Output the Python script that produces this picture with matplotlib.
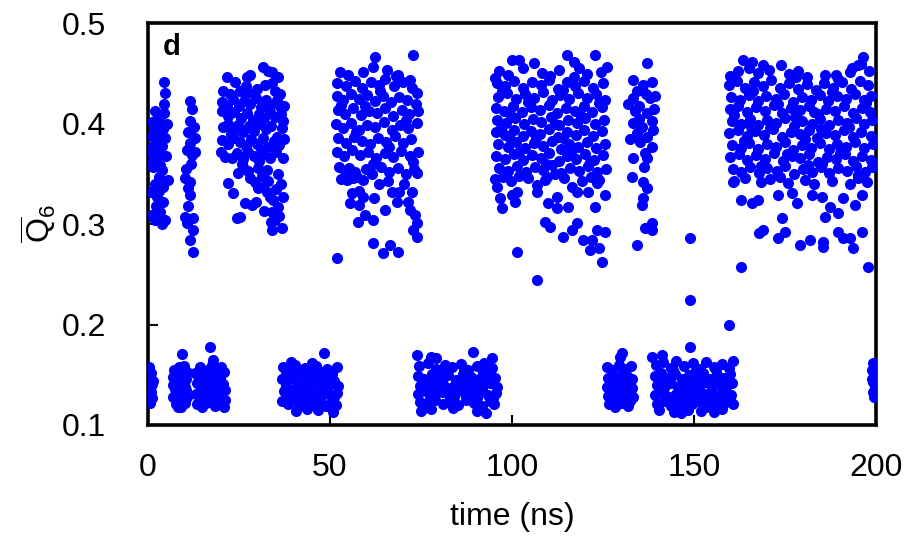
import matplotlib
matplotlib.use("Agg")
import matplotlib.pyplot as plt
import numpy as np

plt.rcParams['font.family'] = ['Liberation Sans', 'DejaVu Sans']
plt.rcParams['mathtext.fontset'] = 'custom'
plt.rcParams['mathtext.rm'] = 'Liberation Sans'
plt.rcParams['mathtext.it'] = 'Liberation Sans'

# (time in ns, Q6 average) per stretch of the trajectory
# ---- low-Q6 (liquid-like) stretches ----
low_0 = [(0.3, .158), (0.8, .152), (0.2, .146), (1.0, .141), (0.4, .137), (0.9, .133),
         (0.3, .129), (1.2, .127), (0.6, .122), (0.5, .149), (1.3, .144), (0.7, .139)]

low_8 = [(7.2, .155), (8.4, .158), (9.6, .150), (10.5, .146), (6.8, .148), (7.9, .143),
         (9.1, .141), (10.3, .138), (7.3, .136), (8.7, .133), (9.9, .131), (6.9, .128),
         (8.1, .126), (9.4, .124), (10.6, .128), (7.6, .121), (8.3, .118), (9.0, .118),
         (10.1, .122), (8.8, .147), (9.3, .171), (10.8, .153), (7.0, .140), (8.0, .150),
         (9.8, .159), (10.4, .135)]

low_17 = [(13.0, .152), (14.2, .158), (15.3, .149), (16.5, .155), (17.6, .160), (18.8, .151),
          (19.9, .147), (21.0, .153), (13.4, .142), (14.6, .139), (15.8, .144), (17.0, .138),
          (18.2, .143), (19.4, .137), (20.6, .141), (21.3, .135), (13.1, .131), (14.3, .128),
          (15.5, .133), (16.7, .126), (17.9, .130), (19.1, .127), (20.2, .131), (21.1, .125),
          (13.6, .121), (14.8, .118), (16.0, .122), (17.3, .124), (18.5, .119), (19.7, .121),
          (20.8, .118), (17.0, .178), (18.0, .165), (16.2, .147), (19.0, .133),
          (14.0, .148), (16.2, .135), (18.6, .127), (20.0, .158), (15.0, .124), (19.5, .143)]

low_44 = [(37.2, .158), (38.9, .154), (40.3, .160), (41.8, .152), (43.2, .157), (44.7, .151),
          (46.1, .159), (47.5, .153), (48.4, .172), (49.2, .156), (50.6, .151), (51.8, .158),
          (36.9, .146), (38.3, .143), (39.7, .148), (41.2, .141), (42.6, .145), (44.1, .139),
          (45.5, .146), (46.9, .142), (48.3, .147), (49.8, .140), (51.2, .144), (52.3, .139),
          (37.5, .134), (39.0, .131), (40.5, .136), (41.9, .129), (43.4, .133), (44.8, .128),
          (46.3, .135), (47.7, .130), (49.1, .134), (50.5, .127), (51.9, .132),
          (36.8, .124), (38.4, .121), (39.9, .125), (41.4, .119), (42.9, .123), (44.4, .126),
          (45.9, .120), (47.3, .124), (48.8, .119), (50.2, .123), (51.6, .120),
          (40.8, .114), (43.8, .116), (46.8, .115), (50.9, .113), (39.2, .163), (45.0, .162),
          (37.9, .139), (40.1, .128), (42.3, .137), (44.0, .147), (46.0, .129), (48.1, .138),
          (49.9, .150), (51.0, .128), (38.0, .151), (43.0, .150)]

low_85 = [(74.5, .159), (77.0, .162), (79.2, .156), (81.5, .160), (83.4, .158), (85.9, .161),
          (88.0, .155), (90.3, .159), (92.4, .162), (94.6, .157),
          (74.0, .170), (77.8, .168), (79.0, .167), (89.2, .173), (94.5, .167),
          (74.1, .149), (75.9, .146), (78.1, .151), (80.2, .147), (82.3, .150), (84.5, .145),
          (86.6, .151), (88.8, .148), (91.0, .146), (93.1, .150), (95.3, .147),
          (74.8, .139), (76.9, .142), (79.0, .138), (81.1, .141), (83.3, .137), (85.4, .143),
          (87.5, .139), (89.7, .141), (91.8, .137), (94.0, .142), (95.8, .138),
          (74.3, .131), (76.4, .134), (78.5, .129), (80.7, .133), (82.8, .130), (84.9, .135),
          (87.0, .131), (89.2, .128), (91.4, .134), (93.5, .130), (95.5, .132),
          (74.6, .123), (76.7, .120), (78.9, .125), (81.0, .121), (83.1, .124), (85.3, .120),
          (87.4, .125), (89.6, .122), (91.7, .119), (93.9, .124), (95.1, .121),
          (74.9, .114), (77.8, .116), (83.9, .117), (90.5, .114), (93.0, .112),
          (75.5, .135), (77.6, .127), (79.8, .145), (81.9, .136), (84.0, .128), (86.2, .146),
          (88.3, .135), (90.4, .127), (92.5, .144), (94.8, .127), (80.5, .154), (86.8, .156),
          (92.0, .153), (78.0, .139), (84.2, .139), (90.0, .136)]

low_130 = [(126.0, .158), (127.6, .155), (129.4, .160), (131.2, .156), (132.8, .159),
           (130.2, .172), (129.8, .168),
           (126.3, .147), (128.0, .150), (129.7, .145), (131.5, .149), (133.1, .146),
           (126.1, .138), (127.8, .141), (129.5, .136), (131.3, .140), (132.9, .137),
           (126.4, .129), (128.1, .132), (129.9, .127), (131.6, .131), (133.2, .128),
           (126.7, .121), (128.4, .118), (130.2, .122), (131.9, .119), (127.2, .125),
           (130.8, .134), (127.0, .133), (130.5, .152), (132.4, .124), (128.9, .143)]

low_150 = [(139.5, .160), (141.5, .163), (143.6, .157), (145.1, .164), (147.2, .159),
           (149.8, .162), (151.6, .156), (153.3, .163), (155.5, .158), (157.8, .161),
           (159.5, .157), (160.7, .164), (138.6, .168), (141.2, .170),
           (139.2, .149), (141.0, .152), (142.9, .147), (144.8, .151), (146.7, .146),
           (148.6, .150), (150.5, .148), (152.4, .152), (154.3, .146), (156.2, .150),
           (158.1, .147), (160.0, .151),
           (139.8, .140), (141.7, .137), (143.6, .142), (145.5, .138), (147.4, .141),
           (149.3, .136), (151.2, .140), (153.1, .143), (155.0, .137), (156.9, .141),
           (158.8, .138), (160.5, .142),
           (139.4, .130), (141.3, .133), (143.2, .128), (145.1, .131), (147.0, .129),
           (148.9, .133), (150.8, .128), (152.7, .131), (154.6, .134), (156.5, .129),
           (158.4, .132), (160.3, .130),
           (139.9, .121), (141.8, .124), (143.7, .119), (145.6, .122), (147.5, .117),
           (149.4, .121), (151.3, .124), (153.2, .118), (155.1, .122), (157.0, .119),
           (158.9, .123), (160.6, .121),
           (140.5, .115), (144.6, .113), (146.4, .112), (148.3, .115), (151.8, .114),
           (155.6, .113), (157.8, .116),
           (140.3, .145), (142.5, .128), (144.2, .155), (146.1, .135), (148.0, .124),
           (150.1, .144), (152.0, .133), (154.0, .126), (156.0, .155), (157.9, .135),
           (159.8, .126), (142.4, .141), (150.6, .155), (155.8, .145)]

low_199 = [(199.3, .162), (199.0, .155), (199.5, .149), (199.1, .143), (199.6, .138),
           (199.2, .133), (199.4, .128), (199.0, .146)]

# ---- high-Q6 (ordered) stretches ----
high_3 = [(4.4, .441), (4.6, .431), (4.5, .420), (1.9, .413), (2.5, .405), (5.2, .400),
          (1.6, .394), (3.3, .389), (4.7, .386), (2.6, .381), (2.8, .374), (1.4, .357),
          (3.8, .354), (2.9, .347), (5.5, .344), (4.1, .337), (2.6, .327), (4.0, .322),
          (3.3, .312), (1.9, .304), (4.6, .304), (1.2, .402), (2.1, .397), (3.6, .401),
          (1.0, .388), (2.4, .392), (4.2, .395), (1.5, .378), (3.9, .378), (0.8, .371),
          (2.2, .366), (4.9, .368), (1.1, .361), (3.4, .359), (1.8, .340), (0.9, .332),
          (3.1, .333), (2.2, .318), (1.2, .309), (3.8, .300), (4.4, .411)]

high_12 = [(11.5, .423), (12.0, .415), (11.5, .403), (11.0, .392), (12.9, .386), (11.5, .381),
           (10.7, .374), (12.9, .372), (12.0, .369), (10.2, .346), (11.5, .342), (11.0, .336),
           (11.5, .329), (10.2, .307), (12.4, .306), (10.7, .301), (12.4, .294), (11.5, .284),
           (12.4, .272), (11.8, .360), (10.5, .355), (12.6, .397), (10.9, .318)]

high_28 = [(21.6, .446), (23.9, .441), (27.1, .446), (28.0, .448), (31.6, .456), (33.0, .452),
           (34.0, .451), (35.7, .446),
           (20.6, .433), (22.5, .430), (25.3, .433), (26.8, .437), (29.0, .431), (30.0, .435),
           (32.2, .438), (34.8, .433), (36.3, .430),
           (20.3, .422), (21.8, .419), (23.4, .425), (24.9, .418), (26.4, .423), (27.9, .420),
           (29.6, .426), (31.0, .417), (32.5, .424), (33.9, .419), (35.5, .424), (36.6, .416),
           (20.3, .413), (22.0, .408), (23.7, .412), (25.6, .406), (27.3, .411), (28.8, .404),
           (30.4, .410), (32.0, .406), (33.4, .412), (35.0, .407), (36.5, .410),
           (20.6, .397), (21.9, .400), (23.3, .394), (24.8, .399), (26.2, .392), (27.7, .398),
           (29.1, .393), (30.7, .400), (32.3, .395), (33.8, .398), (35.4, .387), (36.8, .396),
           (20.4, .384), (22.1, .380), (23.6, .386), (25.2, .382), (26.8, .378), (28.3, .385),
           (29.9, .380), (31.5, .386), (33.1, .377), (34.6, .383), (36.0, .379),
           (20.2, .372), (21.2, .367), (23.0, .366), (24.4, .371), (26.0, .365), (27.5, .372),
           (29.0, .368), (30.6, .363), (32.0, .370), (33.6, .366), (35.2, .372), (37.0, .366),
           (22.0, .341), (23.4, .331), (24.7, .351), (26.0, .357), (28.0, .346), (29.4, .342),
           (30.2, .336), (31.6, .337), (32.7, .332), (33.5, .327), (34.4, .324), (37.0, .327),
           (35.7, .317), (34.0, .312), (34.9, .304), (34.0, .294), (36.8, .296), (25.3, .307),
           (24.5, .306), (26.6, .321), (28.5, .319), (32.7, .354), (30.2, .356), (31.2, .348),
           (33.0, .343), (35.8, .350), (36.5, .340), (27.5, .353), (29.8, .322), (32.0, .313),
           (33.7, .302), (36.0, .308), (35.2, .335), (37.2, .403), (37.5, .418), (37.3, .385),
           (22.8, .390), (27.0, .430), (31.0, .375), (34.0, .440), (25.7, .360)]

high_63 = [(62.4, .466), (72.8, .468), (52.7, .451), (55.0, .448), (59.0, .451), (61.8, .456),
           (65.6, .453), (68.7, .448), (72.0, .443),
           (52.0, .440), (54.5, .437), (56.8, .442), (58.9, .436), (61.2, .441), (63.4, .438),
           (65.0, .444), (67.5, .437), (70.0, .441), (72.4, .436), (74.0, .431),
           (51.8, .428), (53.6, .424), (55.7, .430), (57.9, .425), (60.1, .429), (62.3, .423),
           (64.5, .428), (66.8, .422), (69.0, .427), (71.2, .424), (73.6, .420),
           (52.3, .414), (54.1, .410), (56.3, .416), (58.4, .409), (60.6, .413), (62.9, .411),
           (65.2, .416), (67.4, .408), (69.7, .414), (71.8, .410), (74.2, .413),
           (51.6, .400), (53.7, .396), (55.9, .401), (58.0, .394), (60.3, .399), (62.5, .397),
           (64.8, .402), (67.0, .394), (69.3, .399), (71.5, .396), (73.8, .401),
           (52.1, .386), (54.3, .381), (56.6, .387), (58.7, .383), (61.0, .380), (63.2, .386),
           (65.5, .382), (67.8, .388), (70.1, .381), (72.3, .385),
           (51.9, .372), (53.9, .368), (56.1, .374), (58.3, .369), (60.5, .372), (62.7, .366),
           (65.0, .371), (67.2, .367), (69.5, .373), (71.9, .368), (74.1, .372),
           (52.4, .357), (54.2, .353), (55.2, .356), (57.0, .352), (59.8, .355), (61.6, .350),
           (64.0, .357), (66.3, .352), (68.6, .356), (70.8, .350), (73.0, .355),
           (53.0, .345), (54.6, .344), (56.2, .346), (57.5, .347), (59.0, .344),
           (58.0, .333), (63.5, .340), (66.0, .343), (70.4, .340),
           (73.8, .351), (56.0, .331), (59.0, .327), (62.0, .326), (55.5, .321), (58.0, .319),
           (65.0, .314), (68.4, .322), (67.0, .332), (69.0, .332), (72.5, .332), (71.4, .322),
           (72.0, .314), (73.4, .309), (59.6, .309), (57.7, .302), (61.8, .304), (74.0, .301),
           (72.8, .294), (61.8, .281), (64.5, .271), (66.5, .279), (68.7, .272), (52.0, .266),
           (73.9, .287),
           (53.0, .419), (57.2, .392), (61.7, .360), (63.8, .433), (66.1, .377), (70.9, .404),
           (68.2, .447), (59.5, .418), (72.9, .362)]

high_110 = [(100.0, .463), (102.0, .463), (106.0, .460), (115.0, .468), (117.0, .461),
            (122.8, .468), (126.0, .456), (95.3, .445),
            (96.5, .452), (99.0, .448), (103.0, .455), (108.3, .450), (110.5, .447),
            (113.0, .453), (118.5, .455), (120.5, .449), (124.5, .451),
            (95.8, .440), (98.2, .437), (100.6, .442), (103.1, .436), (105.5, .441),
            (107.9, .438), (110.2, .443), (112.7, .435), (115.0, .441), (117.4, .437),
            (119.8, .442), (122.3, .436), (125.0, .440),
            (96.2, .427), (98.7, .431), (101.1, .425), (103.6, .430), (106.0, .426),
            (108.5, .432), (110.9, .424), (113.3, .429), (115.7, .425), (118.2, .431),
            (120.6, .426), (123.0, .430), (125.6, .424),
            (95.5, .416), (97.9, .413), (100.3, .418), (102.8, .412), (105.2, .417),
            (107.6, .414), (110.1, .419), (112.5, .411), (114.9, .416), (117.3, .413),
            (119.7, .418), (122.1, .412), (124.6, .417),
            (96.0, .404), (98.4, .401), (100.9, .406), (103.3, .400), (105.7, .405),
            (108.1, .402), (110.6, .407), (113.0, .399), (115.4, .404), (117.8, .401),
            (120.2, .406), (122.7, .400), (125.2, .404),
            (95.6, .392), (98.0, .389), (100.5, .394), (102.9, .388), (105.3, .393),
            (107.8, .390), (110.2, .395), (112.6, .387), (115.0, .392), (117.5, .389),
            (119.9, .394), (122.3, .388), (124.8, .393),
            (96.3, .380), (98.8, .377), (101.2, .382), (103.6, .376), (106.1, .381),
            (108.5, .378), (110.9, .383), (113.4, .375), (115.8, .380), (118.2, .377),
            (120.7, .382), (123.1, .376), (125.5, .380),
            (95.7, .368), (98.1, .365), (100.6, .370), (103.0, .364), (105.4, .369),
            (107.9, .366), (110.3, .371), (112.8, .363), (115.2, .368), (117.6, .365),
            (120.1, .370), (122.5, .364), (124.9, .369),
            (96.4, .356), (98.9, .353), (101.3, .358), (103.8, .352), (106.2, .357),
            (108.6, .354), (111.1, .359), (113.5, .351), (116.0, .356), (118.4, .353),
            (120.8, .358), (123.3, .352), (125.7, .355),
            (95.4, .345), (97.5, .347), (99.6, .343), (104.5, .346), (109.0, .344),
            (114.2, .346), (119.3, .343), (121.6, .347), (124.0, .344),
            (95.8, .337), (96.7, .326), (97.2, .316), (100.0, .329), (101.3, .332),
            (100.8, .322), (106.9, .339), (106.9, .332), (109.6, .347), (110.0, .321),
            (112.3, .327), (112.3, .316), (115.4, .317), (116.5, .337), (117.8, .332),
            (120.8, .332), (123.3, .341), (125.5, .329), (122.8, .317), (109.0, .302),
            (110.4, .297), (114.0, .287), (116.5, .294), (118.0, .301), (119.5, .284),
            (122.0, .284), (121.4, .274), (124.0, .276), (123.3, .294), (125.5, .292),
            (124.7, .262), (101.3, .272), (107.0, .244),
            (97.0, .396), (99.5, .410), (101.8, .372), (104.4, .422), (106.7, .386),
            (109.3, .360), (111.8, .400), (114.1, .434), (116.6, .374), (119.0, .408),
            (121.4, .362), (123.8, .421), (97.3, .433), (102.0, .348), (111.7, .350),
            (117.0, .446), (99.8, .384), (113.9, .386)]

high_136 = [(137.0, .460), (133.2, .443), (138.4, .441), (134.3, .433), (136.0, .438),
            (133.2, .426), (137.9, .426), (133.8, .413), (137.0, .411), (138.4, .403),
            (133.2, .401), (135.7, .397), (138.7, .394), (134.3, .391), (137.0, .387),
            (135.2, .382), (138.4, .377), (136.5, .371), (137.0, .366), (133.2, .366),
            (133.0, .347), (136.0, .342), (137.0, .336), (136.0, .326), (135.7, .319),
            (138.4, .301), (136.5, .296), (138.4, .294), (134.3, .279),
            (131.9, .420), (134.9, .418), (136.8, .430), (132.5, .385), (139.0, .415),
            (135.0, .405), (136.2, .357), (139.2, .428)]

crossing_150 = [(149.0, .286), (149.0, .224), (149.0, .178), (159.5, .200), (162.8, .257)]

high_180 = [(163.5, .463), (166.0, .461), (169.0, .458), (174.0, .458), (196.4, .466),
            (195.0, .458), (192.8, .451),
            (160.0, .447), (162.2, .452), (165.0, .455), (167.5, .450), (170.6, .453),
            (176.0, .449), (178.5, .452), (181.0, .446), (186.0, .448), (189.5, .444),
            (193.5, .455), (196.0, .459), (198.0, .452),
            (159.6, .438), (161.8, .442), (164.1, .436), (166.5, .441), (168.9, .437),
            (171.3, .443), (173.7, .436), (176.1, .440), (178.6, .435), (181.0, .439),
            (183.4, .434), (185.8, .440), (188.3, .436), (190.7, .441), (193.1, .435),
            (195.5, .442), (197.9, .438),
            (160.3, .427), (162.7, .424), (165.1, .429), (167.5, .423), (169.9, .428),
            (172.4, .425), (174.8, .430), (177.2, .422), (179.6, .427), (182.1, .424),
            (184.5, .429), (186.9, .423), (189.3, .428), (191.8, .425), (194.2, .430),
            (196.6, .424), (198.7, .428),
            (159.8, .415), (162.2, .418), (164.6, .412), (167.0, .417), (169.4, .413),
            (171.9, .419), (174.3, .411), (176.7, .416), (179.1, .414), (181.6, .418),
            (184.0, .410), (186.4, .415), (188.8, .413), (191.3, .418), (193.7, .411),
            (196.1, .416), (198.4, .412),
            (160.5, .403), (162.9, .400), (165.3, .405), (167.7, .399), (170.1, .404),
            (172.6, .401), (175.0, .406), (177.4, .398), (179.8, .403), (182.3, .400),
            (184.7, .405), (187.1, .399), (189.5, .404), (192.0, .401), (194.4, .406),
            (196.8, .400), (199.0, .404),
            (159.7, .391), (162.1, .394), (164.5, .388), (166.9, .393), (169.3, .389),
            (171.8, .395), (174.2, .387), (176.6, .392), (179.0, .390), (181.5, .394),
            (183.9, .386), (186.3, .391), (188.7, .389), (191.2, .394), (193.6, .387),
            (196.0, .392), (198.5, .388),
            (160.4, .379), (162.8, .376), (165.2, .381), (167.6, .375), (170.0, .380),
            (172.5, .377), (174.9, .382), (177.3, .374), (179.7, .379), (182.2, .376),
            (184.6, .381), (187.0, .375), (189.4, .380), (191.9, .377), (194.3, .382),
            (196.7, .376), (199.1, .380),
            (159.9, .367), (162.3, .370), (164.7, .364), (167.1, .369), (169.5, .365),
            (172.0, .371), (174.4, .363), (176.8, .368), (179.2, .366), (181.7, .370),
            (184.1, .362), (186.5, .367), (188.9, .365), (191.4, .370), (193.8, .363),
            (196.2, .368), (198.6, .364),
            (160.6, .355), (163.0, .352), (165.4, .357), (167.8, .351), (170.2, .356),
            (172.7, .353), (175.1, .358), (177.5, .350), (179.9, .355), (182.4, .352),
            (184.8, .357), (187.2, .351), (189.6, .356), (192.1, .353), (194.5, .358),
            (196.9, .352), (198.8, .357),
            (161.0, .343), (164.0, .346), (168.5, .342), (171.0, .345), (175.7, .341),
            (180.5, .344), (183.0, .340), (188.0, .343), (192.8, .340), (195.2, .346),
            (197.5, .342),
            (160.7, .342), (163.0, .324), (166.0, .321), (167.6, .324), (173.0, .329),
            (177.0, .331), (178.3, .321), (182.4, .329), (185.2, .327), (187.4, .317),
            (190.9, .326), (194.2, .319), (196.2, .329), (186.0, .307), (189.6, .311),
            (174.2, .306), (169.0, .294), (168.0, .291), (175.0, .292), (173.0, .286),
            (179.0, .279), (181.9, .284), (185.4, .282), (185.4, .277), (189.6, .292),
            (190.9, .286), (192.9, .286), (193.7, .276), (196.2, .292), (197.8, .257),
            (161.0, .409), (163.7, .383), (166.2, .433), (168.4, .358), (170.8, .396),
            (173.2, .420), (175.6, .370), (178.1, .446), (180.4, .385), (182.9, .412),
            (185.3, .360), (187.8, .432), (190.2, .371), (192.6, .397), (195.0, .349),
            (197.3, .421), (165.8, .397), (173.5, .347), (181.2, .359), (189.0, .448),
            (185.0, .395), (177.8, .407)]

stretches = [low_0, low_8, low_17, low_44, low_85, low_130, low_150, low_199,
             high_3, high_12, high_28, high_63, high_110, high_136, crossing_150, high_180]

fig = plt.figure(figsize=(9.1, 5.4), dpi=100)
ax = fig.add_axes([0.1626, 0.213, 0.8, 0.744])

for pts in stretches:
    t, q = np.array(pts).T
    ax.scatter(t, q, s=64, color='#0000ff', linewidths=0, zorder=3)

ax.set_xlim(0, 200)
ax.set_ylim(0.1, 0.5)
ax.set_xticks([0, 50, 100, 150, 200])
ax.set_yticks([0.1, 0.2, 0.3, 0.4, 0.5])
ax.set_yticklabels(['0.1', '0.2', '0.3', '0.4', '0.5'])
ax.tick_params(direction='in', length=7, width=1.5, labelsize=23, pad=20,
               top=False, right=False)
ax.tick_params(axis='y', pad=30)
for sp in ax.spines.values():
    sp.set_linewidth(2.6)

ax.set_xlabel('time (ns)', fontsize=23, labelpad=14)
ax.set_ylabel(r'$\overline{\mathrm{Q}}_6$', fontsize=23, labelpad=2)
ax.text(0.02, 0.975, 'd', transform=ax.transAxes, fontsize=21, fontweight='bold',
        ha='left', va='top')

fig.savefig('out.png', dpi=100)
